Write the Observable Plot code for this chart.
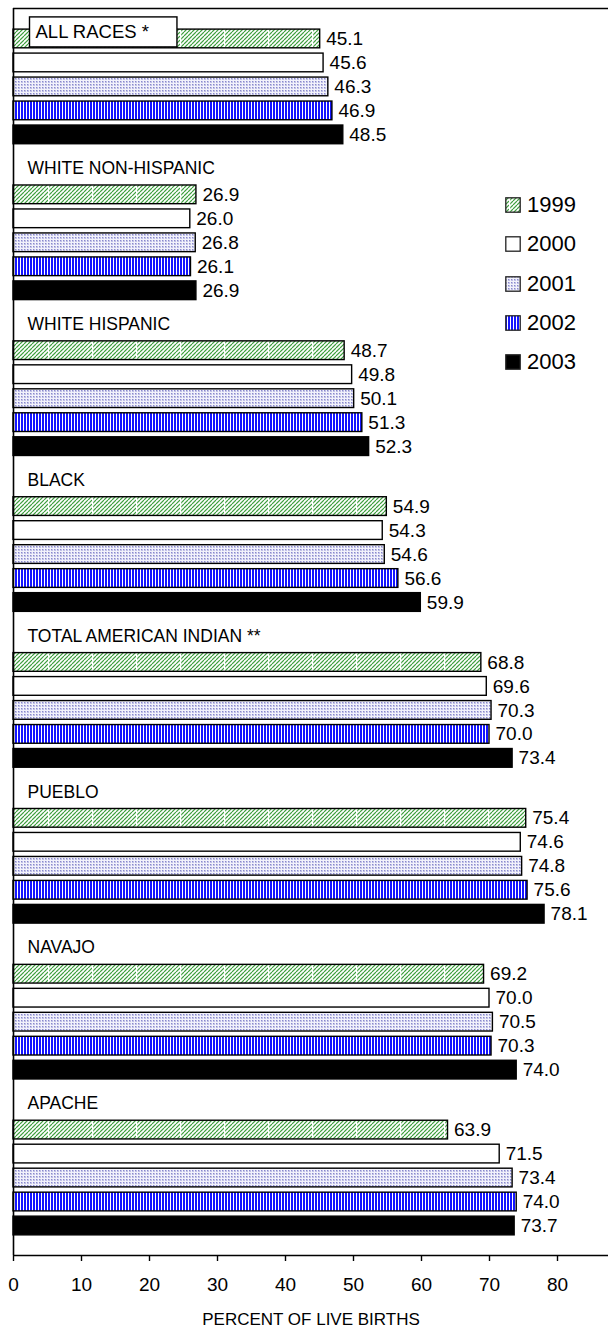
<!DOCTYPE html>
<html>
<head>
<meta charset="utf-8">
<script src="https://cdn.jsdelivr.net/npm/d3@7"></script>
<script src="https://cdn.jsdelivr.net/npm/@observablehq/plot@0.6"></script>
<style>
  html, body { margin: 0; padding: 0; background: #fff; overflow: hidden; }
  #wrap { position: relative; width: 608px; height: 1332px; font-family: "Liberation Sans", Arial, sans-serif; }
  #legend { position: absolute; left: 505px; top: 193px; }
  .li { display: flex; align-items: center; height: 24px; margin-bottom: 15.3px; font-size: 22px; color: #000; }
  .li svg { display: block; margin-right: 6px; }
</style>
</head>
<body>
<svg width="0" height="0" style="position:absolute">
  <defs>
    <pattern id="p1999" patternUnits="userSpaceOnUse" width="44" height="4">
      <rect width="44" height="4" fill="#fff"/>
      <path d="M-4,4L0,0M0,4L4,0M4,4L8,0M8,4L12,0M12,4L16,0M16,4L20,0M20,4L24,0M24,4L28,0M28,4L32,0M32,4L36,0M36,4L40,0M40,4L44,0M44,4L48,0" stroke="#3f9f3f" stroke-width="1.2"/>
      <rect x="4" y="0" width="1.2" height="4" fill="#fff"/>
    </pattern>
    <pattern id="p2000" patternUnits="userSpaceOnUse" width="4" height="4">
      <rect width="4" height="4" fill="#fff"/>
    </pattern>
    <pattern id="p2001" patternUnits="userSpaceOnUse" width="3" height="3">
      <rect width="3" height="3" fill="#f2f2fb"/>
      <rect width="2" height="2" fill="#c0c0e6"/>
      <rect width="1" height="1" fill="#8888cc"/>
    </pattern>
    <pattern id="p2002" patternUnits="userSpaceOnUse" width="3" height="4">
      <rect width="3" height="4" fill="#1414ff"/>
      <rect x="2" width="1" height="4" fill="#fff"/>
    </pattern>
    <pattern id="p2003" patternUnits="userSpaceOnUse" width="4" height="4">
      <rect width="4" height="4" fill="#000"/>
    </pattern>
  </defs>
</svg>
<div id="wrap">
  <div id="chart"></div>
  <div id="legend"></div>
</div>
<script>
// ---- data ----
const groups = ["ALL RACES *", "WHITE NON-HISPANIC", "WHITE HISPANIC", "BLACK",
  "TOTAL AMERICAN INDIAN **", "PUEBLO", "NAVAJO", "APACHE"];
const years = ["1999", "2000", "2001", "2002", "2003"];
const v1999 = [45.1, 26.9, 48.7, 54.9, 68.8, 75.4, 69.2, 63.9];
const v2000 = [45.6, 26.0, 49.8, 54.3, 69.6, 74.6, 70.0, 71.5];
const v2001 = [46.3, 26.8, 50.1, 54.6, 70.3, 74.8, 70.5, 73.4];
const v2002 = [46.9, 26.1, 51.3, 56.6, 70.0, 75.6, 70.3, 74.0];
const v2003 = [48.5, 26.9, 52.3, 59.9, 73.4, 78.1, 74.0, 73.7];
const xTicks = [0, 10, 20, 30, 40, 50, 60, 70, 80];
const axisTitle = "PERCENT OF LIVE BIRTHS";

const series = [v1999, v2000, v2001, v2002, v2003];
const rows = [];
groups.forEach((g, gi) => {
  series.forEach((vals, k) => rows.push({group: g, gi, k, year: years[k], value: vals[gi]}));
});
const labels = groups.map((g, gi) => ({group: g, gi}));

// ---- layout (row units on a linear y scale) ----
const GROUP_STEP = 6.5, OFF = 0.27, HALF = 0.39;
const pos = d => d.gi * GROUP_STEP + d.k + 1 + OFF;
const labelPos = d => d.gi === 0 ? 1.0 : d.gi * GROUP_STEP + 0.17;
const font = "'Liberation Sans', Arial, sans-serif";

const chart = Plot.plot({
  width: 608,
  height: 1332,
  marginTop: 8,
  marginLeft: 13,
  marginRight: 0,
  marginBottom: 77,
  style: {fontFamily: font, fontSize: "19px", color: "#000", background: "#fff", overflow: "visible"},
  x: {domain: [0, 87.5]},
  y: {domain: [0, 52], reverse: true, axis: null},
  color: {type: "ordinal", domain: years, range: years.map(y => `url(#p${y})`)},
  marks: [
    Plot.rectX(rows, {
      x1: 0, x2: "value",
      y1: d => pos(d) - HALF, y2: d => pos(d) + HALF,
      fill: "year", stroke: "#000", strokeWidth: 1.4
    }),
    Plot.text(rows, {
      x: "value", y: pos, text: d => d.value.toFixed(1),
      textAnchor: "start", dx: 6, fontSize: 19, fill: "#000"
    }),
    Plot.text(labels.filter(d => d.gi > 0), {
      x: 0, y: labelPos, text: "group", textAnchor: "start", dx: 14, fontSize: 17.5, fill: "#000"
    }),
    Plot.text(labels.filter(d => d.gi === 0), {
      x: 0, y: labelPos, text: "group", textAnchor: "start", dx: 22, fontSize: 18.5, fill: "#000",
      className: "boxed-label"
    }),
    Plot.ruleX([0], {stroke: "#000", strokeWidth: 1.6}),
    Plot.ruleY([0, 52], {stroke: "#000", strokeWidth: 1.6}),
    Plot.axisX({ticks: xTicks, tickSize: 6, tickPadding: 16, fontSize: 19, label: null,
      tickFormat: d => String(d), stroke: "#000", strokeWidth: 1.4}),
    Plot.text([axisTitle], {frameAnchor: "bottom", dy: 69, fontSize: 17, fill: "#000"})
  ]
});
document.getElementById("chart").appendChild(chart);

// white box behind the "ALL RACES *" label
const lab = chart.querySelector("g.boxed-label text") || chart.querySelector(".boxed-label text");
if (lab) {
  const bb = lab.getBBox();
  const cy = bb.y + bb.height / 2;
  const r = document.createElementNS("http://www.w3.org/2000/svg", "rect");
  r.setAttribute("x", bb.x - 6);
  r.setAttribute("y", cy - 15);
  r.setAttribute("width", bb.width + 34);
  r.setAttribute("height", 30);
  r.setAttribute("fill", "#fff");
  r.setAttribute("stroke", "#000");
  r.setAttribute("stroke-width", 1.4);
  const tr = lab.getAttribute("transform");
  if (tr) r.setAttribute("transform", tr);
  lab.parentNode.insertBefore(r, lab);
}

// legend
const legend = document.getElementById("legend");
years.forEach(y => {
  const item = document.createElement("div");
  item.className = "li";
  item.innerHTML = `<svg width="16" height="16"><rect x="0.8" y="0.8" width="14.4" height="14.4" fill="url(#p${y})" stroke="#222" stroke-width="1.3"/></svg><span>${y}</span>`;
  legend.appendChild(item);
});
</script>
</body>
</html>
